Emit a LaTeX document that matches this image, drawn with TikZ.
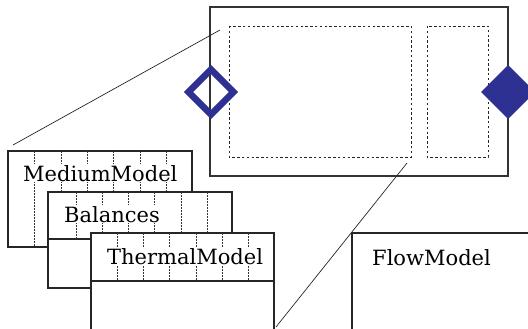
\documentclass[tikz,border=0pt]{standalone}
\usepackage{xcolor}
\usepackage{fontspec}
\setmainfont{DejaVu Serif}
\definecolor{portblue}{HTML}{2E3192}

\begin{document}
\begin{tikzpicture}[x=1pt,y=-1pt,
    frame/.style={draw=black!80, line width=1.1pt},
    part/.style={draw=black!85, line width=.9pt, dash pattern=on 2.4pt off 2.4pt},
    grid/.style={draw=black!80, line width=.5pt, dash pattern=on 1.5pt off 1.5pt},
    layer/.style={draw=black!85, fill=white, line width=1.1pt},
    label/.style={anchor=base west, inner sep=1pt, fill=white, font=\fontsize{21}{25}\selectfont}]
  \useasboundingbox (0,0) rectangle (528,329);
  \clip (0,0) rectangle (528,329);
  % component with its two parts
  \draw [frame] (210,7) rectangle (508,176);
  \draw [part] (229,26) rectangle (411,157);
  \draw [part] (427,26) rectangle (488,157);
  \draw [portblue, line width=6.4pt, miter limit=10]
    (211,69.5) -- (233.5,92) -- (211,114.5) -- (188.5,92) -- cycle;
  \fill [portblue] (508,65) -- (535,92) -- (508,119) -- (481,92) -- cycle;
  % callout lines
  \coordinate (zoomA) at (220,30);
  \coordinate (zoomB) at (13,145);
  \coordinate (zoomC) at (407,163);
  \coordinate (zoomD) at (276,327);
  \draw [black!85, line width=.7pt] (zoomA) -- (zoomB);
  \draw [black!85, line width=.7pt] (zoomC) -- (zoomD);
  % stacked model layers
  \draw [layer] (8,151) rectangle (192,247);
  \foreach \x in {34,61,87,113,140,166}
    \draw [grid] (\x,151) -- (\x,247);
  \node [label] (medium) at (22,181) {MediumModel};
  \draw [layer] (48,192) rectangle (232,288);
  \draw [black!85, line width=1.1pt] (48,239) -- (232,239);
  \foreach \x in {76,102,128,154,181,207}
    \draw [grid] (\x,192) -- (\x,239);
  \node [label] (balances) at (63,222) {Balances};
  \draw [layer] (91,233) rectangle (274,340);
  \draw [black!85, line width=1.1pt] (91,281) -- (274,281);
  \foreach \x in {117,143,169,196,222,248}
    \draw [grid] (\x,233) -- (\x,281);
  \node [label] (thermal) at (106,264) {ThermalModel};
  \draw [layer] (352,233) rectangle (540,340);
  \node [label] (flow) at (371,265) {FlowModel};
\end{tikzpicture}
\end{document}
